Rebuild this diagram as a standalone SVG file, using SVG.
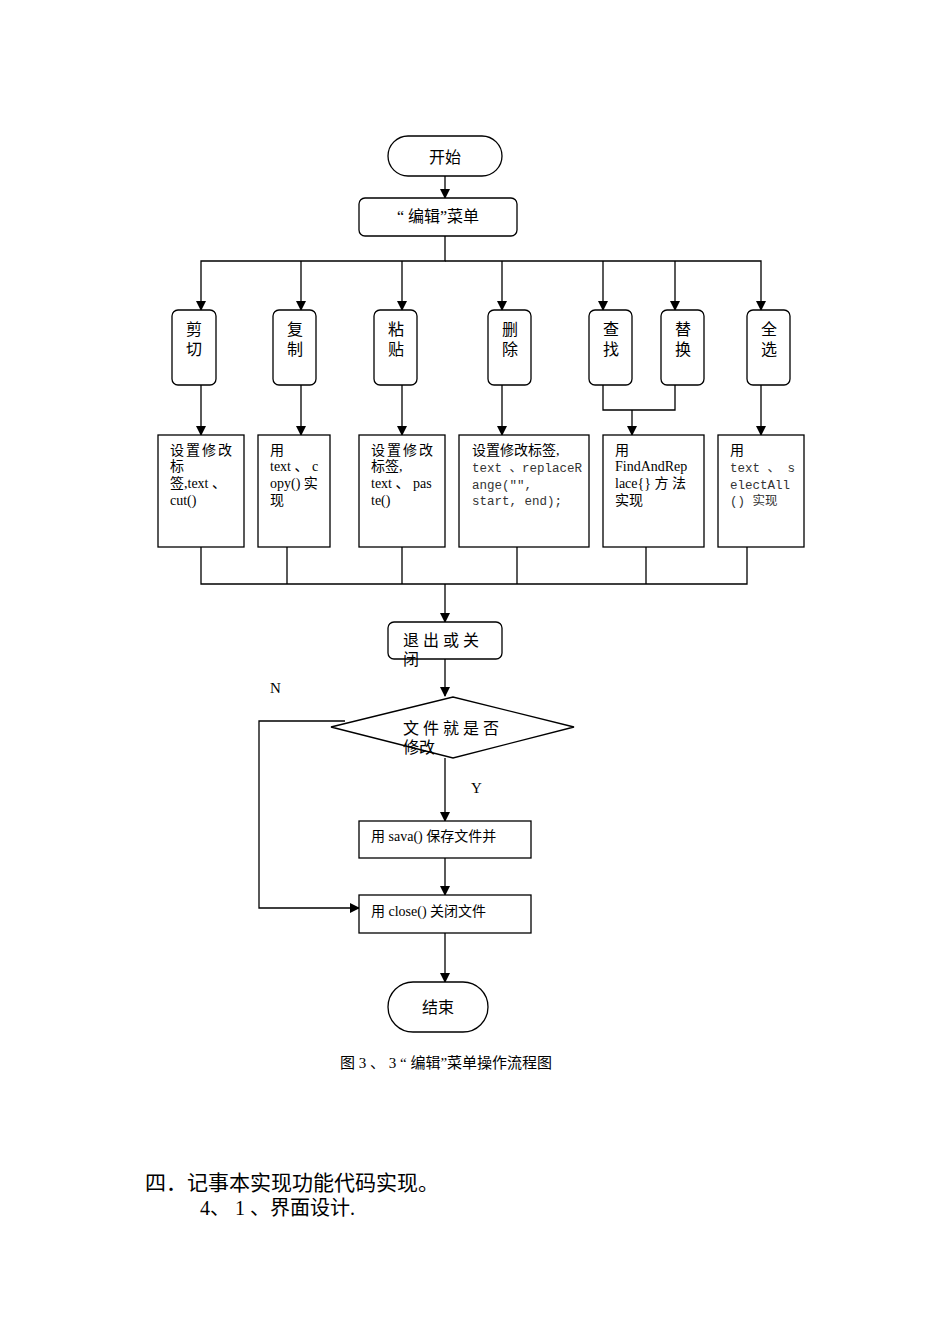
<svg xmlns="http://www.w3.org/2000/svg" width="950" height="1344" viewBox="0 0 950 1344">
<style>
.b{fill:#fff;stroke:#000;stroke-width:1.3}
.l{fill:none;stroke:#000;stroke-width:1.3}
text{font-family:"Liberation Serif","Noto Sans CJK SC",serif;font-size:14px;fill:#000}
.c{font-size:16px;text-anchor:middle}
.m{font-family:"Liberation Mono","Noto Sans CJK SC",monospace;font-size:12.5px;fill:#333}
</style>
<defs><marker id="a" markerWidth="10" markerHeight="10" refX="9" refY="5" orient="auto" markerUnits="userSpaceOnUse"><path d="M0,0L10,5L0,10z"/></marker></defs>
<rect width="950" height="1344" fill="#fff"/>
<g id="connectors" class="l" marker-end="url(#a)">
<path d="M445,176V198"/>
<path d="M445,236V261H201V310" />
<path d="M301,261V310"/><path d="M402,261V310"/><path d="M502,261V310"/><path d="M603,261V310"/><path d="M675,261V310"/><path d="M445,261H761V310"/>
<path d="M201,385V435"/><path d="M301,385V435"/><path d="M402,385V435"/><path d="M502,385V435"/>
<path d="M603,385V410H675V385" marker-end="none"/><path d="M632,410V435"/>
<path d="M761,385V435"/>
<path d="M201,547V584H747V547" marker-end="none"/>
<path d="M287,547V584" marker-end="none"/><path d="M402,547V584" marker-end="none"/><path d="M517,547V584" marker-end="none"/><path d="M646,547V584" marker-end="none"/>
<path d="M445,584V622"/>
<path d="M445,659V696"/>
<path d="M445,758V821"/>
<path d="M445,858V895"/>
<path d="M445,933V982"/>
<path d="M345,721H259V908H359"/>
</g>
<g id="start"><rect class="b" x="388" y="136" width="114" height="40" rx="20"/><text class="c" x="445" y="163">开始</text></g>
<g id="menu"><rect class="b" x="359" y="198" width="158" height="38" rx="6"/><text class="c" x="438" y="222">“ 编辑”菜单</text></g>
<g id="cut"><rect class="b" x="172" y="310" width="44" height="75" rx="6"/><text class="c" x="194" y="335">剪</text><text class="c" x="194" y="355">切</text></g>
<g id="copy"><rect class="b" x="273" y="310" width="43" height="75" rx="6"/><text class="c" x="295" y="335">复</text><text class="c" x="295" y="355">制</text></g>
<g id="paste"><rect class="b" x="374" y="310" width="43" height="75" rx="6"/><text class="c" x="396" y="335">粘</text><text class="c" x="396" y="355">贴</text></g>
<g id="delete"><rect class="b" x="488" y="310" width="43" height="75" rx="6"/><text class="c" x="510" y="335">删</text><text class="c" x="510" y="355">除</text></g>
<g id="find"><rect class="b" x="589" y="310" width="43" height="75" rx="6"/><text class="c" x="611" y="335">查</text><text class="c" x="611" y="355">找</text></g>
<g id="replace"><rect class="b" x="661" y="310" width="43" height="75" rx="6"/><text class="c" x="683" y="335">替</text><text class="c" x="683" y="355">换</text></g>
<g id="selectall"><rect class="b" x="747" y="310" width="43" height="75" rx="6"/><text class="c" x="769" y="335">全</text><text class="c" x="769" y="355">选</text></g>
<g id="b1"><rect class="b" x="158" y="435" width="86" height="112"/><text x="170" y="455" letter-spacing="2">设置修改</text><text x="170" y="471">标</text><text x="170" y="488">签,text 、</text><text x="170" y="505">cut()</text></g>
<g id="b2"><rect class="b" x="258" y="435" width="72" height="112"/><text x="270" y="455">用</text><text x="270" y="471">text 、 c</text><text x="270" y="488">opy() 实</text><text x="270" y="505">现</text></g>
<g id="b3"><rect class="b" x="359" y="435" width="86" height="112"/><text x="371" y="455" letter-spacing="2">设置修改</text><text x="371" y="471">标签,</text><text x="371" y="488">text 、 pas</text><text x="371" y="505">te()</text></g>
<g id="b4"><rect class="b" x="459" y="435" width="130" height="112"/><text x="472" y="455">设置修改标签,</text><text class="m" x="472" y="472">text 、replaceR</text><text class="m" x="472" y="489">ange("",</text><text class="m" x="472" y="505">start, end);</text></g>
<g id="b5"><rect class="b" x="603" y="435" width="101" height="112"/><text x="615" y="455">用</text><text x="615" y="471">FindAndRep</text><text x="615" y="488">lace{} 方 法</text><text x="615" y="505">实现</text></g>
<g id="b6"><rect class="b" x="718" y="435" width="86" height="112"/><text x="730" y="455">用</text><text class="m" x="730" y="472">text 、 s</text><text class="m" x="730" y="489">electAll</text><text class="m" x="730" y="505">() 实现</text></g>
<g id="exit"><rect class="b" x="388" y="622" width="114" height="37" rx="6"/><text x="403" y="646" style="font-size:16px" letter-spacing="4">退出或关</text><text x="403" y="665" style="font-size:16px">闭</text></g>
<g id="decision"><path class="b" d="M331,727L453,697L574,727L453,758Z"/><text x="403" y="734" style="font-size:16px" letter-spacing="4">文件就是否</text><text x="403" y="753" style="font-size:16px">修改</text></g>
<text x="270" y="693" style="font-size:15px">N</text>
<text x="471" y="793" style="font-size:15px">Y</text>
<g id="save"><rect class="b" x="359" y="821" width="172" height="37"/><text x="371" y="841">用 sava() 保存文件并</text></g>
<g id="close"><rect class="b" x="359" y="895" width="172" height="38"/><text x="371" y="916">用 close() 关闭文件</text></g>
<g id="end"><rect class="b" x="388" y="982" width="100" height="50" rx="25"/><text class="c" x="438" y="1013">结束</text></g>
<text x="340" y="1068" style="font-size:15px">图 3 、 3 “ 编辑”菜单操作流程图</text>
<text x="145" y="1190" style="font-size:21px">四．记事本实现功能代码实现。</text>
<text x="200" y="1215" style="font-size:20px">4、 1 、界面设计.</text>
</svg>
